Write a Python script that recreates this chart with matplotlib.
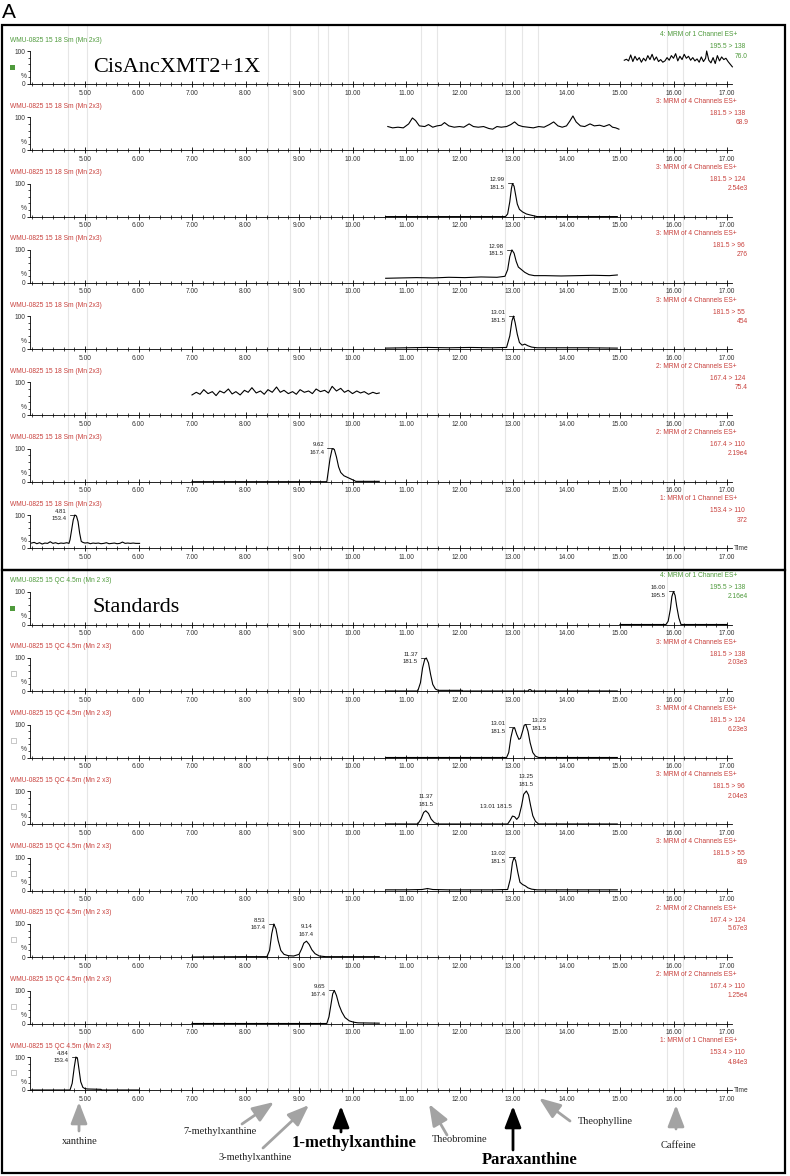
import matplotlib
matplotlib.use('Agg')
import matplotlib.pyplot as plt
from matplotlib.patches import Rectangle
from matplotlib.ticker import MultipleLocator

# ---- data (time in min, relative intensity %) ----
# CisAncXMT2+1X sample
s1_t = [15.08, 15.12, 15.16, 15.20, 15.24, 15.28, 15.32, 15.36, 15.40, 15.44, 15.48, 15.52, 15.56,
        15.60, 15.64, 15.68, 15.72, 15.76, 15.80, 15.84, 15.88, 15.92, 15.96, 16.00, 16.04, 16.08,
        16.12, 16.16, 16.20, 16.24, 16.28, 16.32, 16.36, 16.40, 16.44, 16.48, 16.52, 16.56, 16.60,
        16.62, 16.66, 16.70, 16.74, 16.78, 16.82, 16.86, 16.90, 16.94, 16.98, 17.02, 17.06, 17.10]
s1_y = [72, 75, 70, 88, 68, 84, 72, 80, 66, 78, 70, 86, 74, 90, 72, 82, 68, 74, 66, 70, 80, 72, 86,
        78, 92, 70, 84, 74, 90, 78, 84, 72, 80, 70, 76, 66, 82, 68, 78, 100, 72, 64, 80, 62, 86, 70,
        82, 74, 78, 68, 60, 52]

s2_t = [10.66, 10.75, 10.85, 10.95, 11.05, 11.12, 11.18, 11.25, 11.35, 11.42, 11.50, 11.58, 11.66,
        11.72, 11.80, 11.90, 12.00, 12.08, 12.18, 12.26, 12.35, 12.45, 12.55, 12.62, 12.70, 12.78,
        12.88, 12.96, 13.03, 13.10, 13.18, 13.28, 13.38, 13.48, 13.58, 13.68, 13.76, 13.84, 13.92,
        14.00, 14.06, 14.12, 14.18, 14.26, 14.34, 14.44, 14.52, 14.62, 14.70, 14.80, 14.86, 14.92, 14.98]
s2_y = [72, 68, 70, 68, 80, 98, 90, 74, 72, 78, 70, 74, 76, 84, 74, 70, 72, 70, 80, 72, 70, 72, 66,
        64, 72, 70, 72, 78, 86, 76, 72, 70, 68, 72, 70, 78, 86, 74, 70, 74, 88, 104, 86, 74, 72, 80,
        74, 76, 72, 78, 70, 68, 64]

s3_t = [10.62, 12.86, 12.90, 12.94, 12.97, 12.99, 13.02, 13.05, 13.08, 13.12, 13.18, 13.25, 13.32, 13.40, 13.45, 14.95]
s3_y = [0, 0, 8, 45, 85, 100, 92, 65, 38, 22, 14, 8, 5, 2, 0, 0]

s4_t = [10.62, 10.9, 11.2, 11.5, 11.8, 12.1, 12.4, 12.7, 12.85, 12.90, 12.94, 12.98, 13.02, 13.06,
        13.10, 13.16, 13.22, 13.30, 13.40, 13.6, 13.9, 14.2, 14.5, 14.8, 14.95]
s4_y = [14, 15, 16, 15, 17, 16, 18, 17, 20, 40, 80, 100, 90, 65, 48, 40, 32, 25, 22, 22, 21, 22, 23, 22, 24]

s5_t = [10.62, 11.0, 11.4, 11.8, 12.2, 12.6, 12.88, 12.94, 12.98, 13.01, 13.04, 13.08, 13.12, 13.17,
        13.22, 13.28, 13.35, 13.45, 13.7, 14.0, 14.4, 14.95]
s5_y = [3, 4, 5, 4, 5, 4, 5, 40, 85, 100, 80, 45, 20, 12, 15, 10, 6, 4, 4, 4, 4, 3]

s6_t = [7.00, 7.08, 7.15, 7.22, 7.30, 7.38, 7.45, 7.52, 7.60, 7.68, 7.75, 7.82, 7.90, 7.98, 8.05,
        8.12, 8.20, 8.28, 8.35, 8.42, 8.50, 8.58, 8.65, 8.72, 8.80, 8.88, 8.95, 9.02, 9.10, 9.18,
        9.25, 9.32, 9.40, 9.48, 9.55, 9.62, 9.70, 9.78, 9.85, 9.92, 10.00, 10.08, 10.15, 10.22,
        10.30, 10.38, 10.45, 10.50]
s6_y = [62, 70, 64, 78, 66, 72, 60, 74, 68, 80, 65, 72, 62, 76, 70, 84, 68, 74, 64, 78, 70, 86, 70,
        76, 66, 72, 64, 78, 70, 74, 66, 80, 72, 76, 68, 88, 74, 82, 70, 76, 66, 74, 68, 72, 64, 70, 66, 68]

s7_t = [7.0, 9.52, 9.55, 9.58, 9.62, 9.66, 9.70, 9.74, 9.78, 9.84, 9.92, 10.0, 10.04, 10.06, 10.5]
s7_y = [0, 0, 35, 70, 100, 98, 75, 45, 28, 18, 12, 6, 3, 1, 1]

s8_t = [4.00, 4.05, 4.10, 4.15, 4.20, 4.25, 4.30, 4.35, 4.40, 4.45, 4.50, 4.55, 4.60, 4.66, 4.70,
        4.72, 4.75, 4.78, 4.81, 4.84, 4.87, 4.90, 4.93, 4.96, 5.00, 5.05, 5.10, 5.15, 5.20, 5.25,
        5.30, 5.35, 5.40, 5.45, 5.50, 5.55, 5.60, 5.65, 5.70, 5.75, 5.80, 5.85, 5.90, 5.95, 6.02]
s8_y = [15, 17, 13, 16, 12, 15, 14, 19, 14, 16, 13, 15, 14, 16, 14, 25, 55, 85, 100, 97, 80, 45, 20,
        17, 15, 16, 13, 15, 14, 15, 13, 14, 16, 13, 14, 15, 13, 14, 18, 14, 15, 14, 15, 14, 14]

# Standards
q1_t = [15.0, 15.86, 15.90, 15.94, 15.97, 16.00, 16.03, 16.06, 16.10, 16.14, 17.0]
q1_y = [0, 0, 10, 45, 85, 100, 88, 55, 20, 0, 0]

q2_t = [10.62, 11.22, 11.27, 11.31, 11.35, 11.38, 11.42, 11.46, 11.50, 11.55, 11.60, 12.05, 12.06,
        13.28, 13.30, 13.33, 13.35, 14.95]
q2_y = [0, 0, 25, 70, 96, 100, 85, 50, 20, 6, 2, 2, 0, 0, 4, 4, 0, 0]

q3_t = [10.62, 12.88, 12.92, 12.96, 13.00, 13.03, 13.07, 13.11, 13.14, 13.18, 13.21, 13.24, 13.28,
        13.32, 13.37, 13.42, 13.48, 14.95]
q3_y = [0, 0, 15, 60, 88, 90, 70, 55, 58, 80, 98, 100, 80, 45, 15, 4, 0, 0]

q4_t = [10.62, 11.22, 11.28, 11.33, 11.37, 11.42, 11.47, 11.53, 11.60, 12.90, 12.95, 12.99, 13.03,
        13.07, 13.11, 13.16, 13.20, 13.25, 13.29, 13.33, 13.37, 13.42, 13.48, 14.95]
q4_y = [0, 0, 15, 35, 40, 32, 15, 4, 0, 0, 12, 24, 22, 14, 22, 55, 90, 100, 88, 55, 25, 8, 0, 0]

q5_t = [10.62, 11.0, 11.3, 11.4, 11.5, 11.8, 12.2, 12.6, 12.9, 12.95, 12.99, 13.02, 13.05, 13.09,
        13.13, 13.18, 13.23, 13.28, 13.35, 13.45, 13.8, 14.2, 14.6, 14.95]
q5_y = [2, 2, 3, 6, 3, 2, 2, 2, 3, 35, 85, 100, 90, 55, 25, 18, 14, 8, 4, 2, 2, 2, 2, 2]

q6_t = [7.0, 8.0, 8.40, 8.45, 8.49, 8.53, 8.57, 8.61, 8.66, 8.72, 8.80, 8.90, 9.00, 9.05, 9.09,
        9.14, 9.19, 9.24, 9.30, 9.38, 9.50, 10.5]
q6_y = [0, 1, 1, 20, 70, 100, 85, 50, 20, 8, 4, 3, 8, 25, 42, 48, 38, 22, 10, 3, 1, 1]

q7_t = [7.0, 9.52, 9.56, 9.60, 9.63, 9.66, 9.70, 9.75, 9.80, 9.86, 9.94, 10.02, 10.10, 10.5]
q7_y = [0, 0, 20, 60, 90, 100, 85, 55, 35, 18, 8, 4, 2, 1]

q8_t = [4.0, 4.72, 4.76, 4.80, 4.83, 4.86, 4.89, 4.92, 4.96, 5.00, 5.05, 5.30, 5.31, 6.0]
q8_y = [0, 0, 20, 70, 100, 95, 60, 25, 8, 4, 3, 2, 0, 0]

# channel texts on the right of each trace
s_func = ['4: MRM of 1 Channel ES+', '3: MRM of 4 Channels ES+', '3: MRM of 4 Channels ES+',
          '3: MRM of 4 Channels ES+', '3: MRM of 4 Channels ES+', '2: MRM of 2 Channels ES+',
          '2: MRM of 2 Channels ES+', '1: MRM of 1 Channel ES+']
s_trans = ['195.5 > 138', '181.5 > 138', '181.5 > 124', '181.5 > 96', '181.5 > 55',
           '167.4 > 124', '167.4 > 110', '153.4 > 110']
s_scale = ['76.0', '68.9', '2.54e3', '276', '454', '75.4', '2.19e4', '372']
q_func = s_func
q_trans = s_trans
q_scale = ['2.16e4', '2.03e3', '6.23e3', '2.04e3', '819', '5.67e3', '1.25e4', '4.84e3']

s_head = 'WMU-0825 15 18 Sm (Mn 2x3)'
q_head = 'WMU-0825 15 QC 4.5m (Mn 2 x3)'

# peak labels: panel, retention time, apex height, m/z
s_pk_panel = [2, 3, 4, 6, 7]
s_pk_time = [12.99, 12.98, 13.01, 9.62, 4.81]
s_pk_height = [100, 100, 100, 100, 100]
s_pk_mz = ['181.5', '181.5', '181.5', '167.4', '153.4']
s_pk_side = ['left'] * 5

q_pk_panel = [0, 1, 2, 2, 3, 3, 3, 4, 5, 5, 6, 7]
q_pk_time = [16.00, 11.37, 13.01, 13.23, 11.37, 13.01, 13.25, 13.02, 8.53, 9.14, 9.65, 4.84]
q_pk_height = [100, 100, 90, 100, 40, 24, 100, 100, 100, 48, 100, 100]
q_pk_mz = ['195.5', '181.5', '181.5', '181.5', '181.5', '181.5', '181.5', '181.5', '167.4',
           '167.4', '167.4', '153.4']
q_pk_side = ['left', 'left', 'left', 'right', 'above', 'inline', 'above', 'left', 'left',
             'above', 'left', 'left']

grid_times = [4.68, 5.04, 8.42, 8.83, 9.36, 9.54, 9.92, 11.28, 11.58, 12.85, 13.17, 13.47, 15.88, 16.18]

compounds = ['xanthine', '7-methylxanthine', '3-methylxanthine', '1-methylxanthine',
             'Theobromine', 'Paraxanthine', 'Theophylline', 'Caffeine']
compound_main = [False, False, False, True, False, True, False, False]

# ---- layout (pixels) ----
W, H = 790, 1176
AX_L, AX_R, AX_H = 30, 732, 33
T0 = 5 - (85 - AX_L) / 53.5
T1 = 5 + (AX_R - 85) / 53.5
s_base = [84, 150.3, 216.6, 282.9, 349.1, 415.4, 481.7, 548]
q_base = [624.5, 691, 757.5, 824, 890.5, 957, 1023.5, 1090]

red = '#c8403c'
green = '#4f9a3c'
grey = '#a3a3a3'
sans = 'Liberation Sans'
serif = 'Liberation Serif'

fig = plt.figure(figsize=(W / 100, H / 100), dpi=100)


def fx(x):
    return x / W


def fy(y):
    return 1 - y / H


# light grey retention windows behind everything
bg = fig.add_axes([fx(AX_L), fy(1090), (AX_R - AX_L) / W, (1090 - 26) / H])
bg.set_xlim(T0, T1)
bg.axis('off')
bg.set_zorder(-1)
for t in grid_times:
    bg.axvline(t, color='#e6e6e6', lw=0.8)


def panel(base, xs, ys, head, func, trans, scale, col, last):
    ax = fig.add_axes([fx(AX_L), fy(base), (AX_R - AX_L) / W, AX_H / H])
    ax.set_facecolor('none')
    ax.plot(xs, ys, color='black', lw=0.8, clip_on=False)
    ax.set_xlim(T0, T1)
    ax.set_ylim(0, 100)
    for s in ['top', 'right']:
        ax.spines[s].set_visible(False)
    for s in ['left', 'bottom']:
        ax.spines[s].set_linewidth(0.6)
    ax.set_xticks(range(5, 18))
    ax.set_xticklabels(['%.2f' % v for v in range(5, 18)], fontsize=4.8, family=sans, color='#333333')
    ax.xaxis.set_minor_locator(MultipleLocator(0.2))
    ax.tick_params(axis='x', which='major', direction='inout', length=4, width=0.6, pad=2)
    ax.tick_params(axis='x', which='minor', direction='inout', length=2.5, width=0.5)
    ax.set_yticks([0, 100])
    ax.set_yticklabels(['0', '100'], fontsize=4.8, family=sans, color='#333333')
    ax.yaxis.set_minor_locator(MultipleLocator(20))
    ax.tick_params(axis='y', which='major', direction='out', length=2.5, width=0.6, pad=0.8)
    ax.tick_params(axis='y', which='minor', direction='out', length=1.5, width=0.5)
    fig.text(fx(24), fy(base - 8), '%', fontsize=4.8, family=sans, color='#333333', ha='center', va='center')
    fig.text(fx(10), fy(base - 44), head, fontsize=4.8, family=sans, color=col, va='center')
    fig.text(fx(737), fy(base - 49), func, fontsize=4.8, family=sans, color=col, ha='right', va='center')
    fig.text(fx(745), fy(base - 37), trans, fontsize=4.8, family=sans, color=col, ha='right', va='center')
    fig.text(fx(748), fy(base - 28), scale, fontsize=4.8, family=sans, color=col, ha='right', va='center')
    if last:
        fig.text(fx(734), fy(base), 'Time', fontsize=4.8, family=sans, color='#333333', va='center')
    return ax


def peak_labels(axes, panels, times, heights, mzs, sides):
    for p, t, h, mz, side in zip(panels, times, heights, mzs, sides):
        ax = axes[p]
        kw = dict(fontsize=4.3, family=sans, color='#222222', linespacing=1.7, clip_on=False)
        if side == 'left':
            ax.plot([t - 0.09, t + 0.01], [h + 1, h + 1], color='black', lw=0.5, clip_on=False)
            ax.text(t - 0.15, h, '%.2f\n%s' % (t, mz), ha='right', va='center', **kw)
        elif side == 'right':
            ax.plot([t - 0.01, t + 0.09], [h + 1, h + 1], color='black', lw=0.5, clip_on=False)
            ax.text(t + 0.11, h, '%.2f\n%s' % (t, mz), ha='left', va='center', **kw)
        elif side == 'above':
            ax.text(t, h + 12, '%.2f\n%s' % (t, mz), ha='center', va='bottom', **kw)
        else:
            ax.text(t - 0.04, h + 28, '%.2f %s' % (t, mz), ha='right', va='center', **kw)


s_data = [(s1_t, s1_y), (s2_t, s2_y), (s3_t, s3_y), (s4_t, s4_y),
          (s5_t, s5_y), (s6_t, s6_y), (s7_t, s7_y), (s8_t, s8_y)]
q_data = [(q1_t, q1_y), (q2_t, q2_y), (q3_t, q3_y), (q4_t, q4_y),
          (q5_t, q5_y), (q6_t, q6_y), (q7_t, q7_y), (q8_t, q8_y)]

s_axes = []
for i, (xs, ys) in enumerate(s_data):
    col = green if i == 0 else red
    s_axes.append(panel(s_base[i], xs, ys, s_head, s_func[i], s_trans[i], s_scale[i], col, i == 7))
q_axes = []
for i, (xs, ys) in enumerate(q_data):
    col = green if i == 0 else red
    q_axes.append(panel(q_base[i], xs, ys, q_head, q_func[i], q_trans[i], q_scale[i], col, i == 7))

peak_labels(s_axes, s_pk_panel, s_pk_time, s_pk_height, s_pk_mz, s_pk_side)
peak_labels(q_axes, q_pk_panel, q_pk_time, q_pk_height, q_pk_mz, q_pk_side)

# overlay in pixel coordinates for frames, markers and annotations
ov = fig.add_axes([0, 0, 1, 1])
ov.set_xlim(0, W)
ov.set_ylim(H, 0)
ov.axis('off')
ov.set_zorder(10)
ov.patch.set_alpha(0)

ov.add_patch(Rectangle((1.5, 24.5), 783.5, 545.5, fill=False, lw=1.6, ec='black'))
ov.add_patch(Rectangle((1.5, 570), 783.5, 603, fill=False, lw=1.6, ec='black'))
ov.text(2, 13, 'A', fontsize=15, family=sans, va='center', ha='left')

ov.add_patch(Rectangle((10, s_base[0] - 19), 5, 5, color=green, lw=0))
ov.add_patch(Rectangle((10, q_base[0] - 19), 5, 5, color=green, lw=0))
for b in q_base[1:]:
    ov.add_patch(Rectangle((11, b - 20), 5, 5, fill=False, ec='#b0b0b0', lw=0.5))

ov.text(93, 68, 'CisAncXMT2+1X', fontsize=16, family=serif, va='center', ha='left')
ov.text(93, 608, 'Standards', fontsize=16, family=serif, va='center', ha='left')

# arrows: tip, tail, label position
arrow_tip = [(79, 1102), (274, 1102), (309, 1105), (341, 1106), (429, 1104), (513, 1106), (539, 1098), (676, 1105)]
arrow_tail = [(79, 1131), (242, 1124), (263, 1148), (341, 1132), (447, 1135), (513, 1150), (570, 1121), (676, 1129)]
label_pos = [(80, 1142), (220, 1132), (255, 1158), (354, 1143), (460, 1140), (530, 1160), (605, 1122), (678, 1146)]

for name, main, tip, tail, lp in zip(compounds, compound_main, arrow_tip, arrow_tail, label_pos):
    c = 'black' if main else grey
    ov.annotate('', xy=tip, xytext=tail,
                arrowprops=dict(arrowstyle='-|>,head_length=1.3,head_width=0.5', color=c,
                                lw=2.0, mutation_scale=10, shrinkA=0, shrinkB=0))
    if main:
        ov.text(lp[0], lp[1], name, fontsize=12, family=serif, weight='bold', ha='center', va='center')
    else:
        ov.text(lp[0], lp[1], name, fontsize=7.5, family=serif, ha='center', va='center', color='#222222')

fig.savefig('out.png', dpi=100)
